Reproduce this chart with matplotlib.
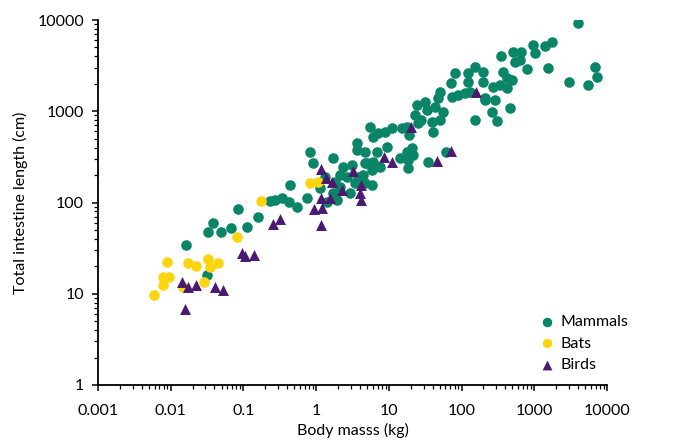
import matplotlib
matplotlib.use("Agg")
import matplotlib.pyplot as plt
from matplotlib.ticker import FixedLocator, FixedFormatter, LogLocator, NullFormatter

# ---- data (body mass kg, intestine length cm) ----
mammals_mass = [0.0162, 0.0313, 0.033, 0.049, 0.067, 0.111, 0.0378, 0.0834, 0.16,
                0.232, 0.272, 0.336, 0.427, 0.55, 0.74, 0.436, 0.82, 0.91, 1.69, 3.6, 4.7,
                2.36, 3.08, 2.13, 1.32, 1.82, 2.63, 3.8, 4.7, 1.13, 1.72, 2.92, 1.91, 1.40,
                71, 50, 90, 111, 48, 73, 24, 31, 33, 43, 56, 50, 39, 28, 23, 25, 41, 17.6,
                15, 19, 10.9, 8.8, 7.1, 6.1, 5.5, 3.6, 4.7, 6.8, 9.3, 20.6, 17.6, 62, 35,
                14.2, 18.5, 18.5, 6.1, 5.0, 7.5, 5.8, 4.4, 5.8, 3.4, 2.13, 21.6,
                209, 288, 259, 462, 153, 303,
                1730, 1400, 949, 1020, 649, 504, 542, 635, 348, 800, 1555, 374, 417, 488,
                337, 272, 417, 199, 153, 124, 81, 124, 199, 130, 209,
                4020, 3020, 6820, 7200, 5520]
mammals_len = [34, 16, 48, 47, 53, 53.5, 59, 84, 70,
               104, 107, 113, 102, 89, 111, 156, 361, 269, 305, 377, 269,
               247, 258, 200, 192, 169, 192, 192, 162, 143, 126, 126, 107, 102,
               2026, 1640, 1508, 1574, 1387, 1445, 1172, 1274, 1033, 1122, 989, 802, 769, 802,
               910, 738, 597, 678, 651, 550, 651, 597, 574, 526, 678, 446, 361, 361, 409,
               393, 361, 361, 280, 305, 292, 237, 280, 269, 247, 227, 200, 156, 162, 149, 332,
               1330, 1330, 989, 1078, 802, 788,
               5790, 5190, 5330, 4320, 4500, 4500, 3490, 3650, 4040, 2885, 2960, 2715, 2300,
               2200, 1940, 1860, 1786, 2715, 3080, 2610, 2610, 2110, 2110, 1640, 1387,
               9350, 2110, 3035, 2393, 1940]

bats_mass = [0.0058, 0.0078, 0.0094, 0.0079, 0.0088, 0.0171, 0.0223, 0.0322, 0.0347,
             0.045, 0.029, 0.0149, 0.081, 0.173, 0.82, 1.07]
bats_len = [9.7, 15.2, 15.4, 12.5, 22.1, 22, 20.3, 23.9, 19.5,
            22, 13.6, 11.9, 41.6, 105, 165, 169]

birds_mass = [0.0157, 0.0142, 0.0171, 0.0223, 0.0407, 0.0528, 0.095, 0.105, 0.141,
              0.257, 0.318, 0.93, 1.19, 1.16, 1.16, 1.55, 4.2, 4.0, 4.2, 2.24, 1.16,
              1.36, 1.63, 3.18, 20.1, 8.6, 11.1, 46, 71, 158]
birds_len = [6.8, 13.4, 11.9, 12.5, 11.9, 11, 28, 25.9, 26.6,
             58, 65.5, 84, 86, 56.7, 113, 111, 107, 128, 156, 137, 231,
             184, 169, 223, 678, 313, 280, 285, 370, 1640]

x_ticks = [0.001, 0.01, 0.1, 1, 10, 100, 1000, 10000]
x_tick_labels = ["0.001", "0.01", "0.1", "1", "10", "100", "1000", "10000"]
y_ticks = [1, 10, 100, 1000, 10000]
y_tick_labels = ["1", "10", "100", "1000", "10000"]

series_names = ["Mammals", "Bats", "Birds"]

# ---- style ----
plt.rcParams['font.family'] = ['Lato', 'DejaVu Sans']
FS = 11.5
C_MAM = '#0b8568'
C_BAT = '#fcd510'
C_BIR = '#4a1a72'

fig = plt.figure(figsize=(6.8, 4.47), dpi=100)
ax = fig.add_axes([98/680, 1 - 385/447, (607-98)/680, (385-20)/447])

ax.scatter(mammals_mass, mammals_len, s=58, marker='o', color=C_MAM, linewidths=0,
           label=series_names[0], zorder=3)
ax.scatter(bats_mass, bats_len, s=58, marker='o', color=C_BAT, linewidths=0,
           label=series_names[1], zorder=4)
ax.scatter(birds_mass, birds_len, s=62, marker='^', color=C_BIR, linewidths=0,
           label=series_names[2], zorder=5)

ax.set_xscale('log')
ax.set_yscale('log')
ax.set_xlim(x_ticks[0], x_ticks[-1])
ax.set_ylim(y_ticks[0], y_ticks[-1])

ax.xaxis.set_major_locator(FixedLocator(x_ticks))
ax.xaxis.set_major_formatter(FixedFormatter(x_tick_labels))
ax.yaxis.set_major_locator(FixedLocator(y_ticks))
ax.yaxis.set_major_formatter(FixedFormatter(y_tick_labels))
ax.xaxis.set_minor_locator(LogLocator(base=10, subs=range(2, 10), numticks=20))
ax.yaxis.set_minor_locator(LogLocator(base=10, subs=range(2, 10), numticks=20))
ax.xaxis.set_minor_formatter(NullFormatter())
ax.yaxis.set_minor_formatter(NullFormatter())

for s in ['top', 'right']:
    ax.spines[s].set_visible(False)
for s in ['left', 'bottom']:
    ax.spines[s].set_linewidth(1.3)
    ax.spines[s].set_color('black')

ax.tick_params(which='major', direction='out', length=4, width=1.1, labelsize=FS,
               colors='black')
ax.tick_params(axis='y', which='major', pad=6)
ax.tick_params(axis='x', which='major', pad=10)
ax.tick_params(which='minor', direction='out', length=3, width=0.9, colors='black')

ax.set_xlabel("Body masss (kg)", fontsize=FS, labelpad=3)
ax.set_ylabel("Total intestine length (cm)", fontsize=FS, labelpad=7)

leg = ax.legend(loc='upper left', bbox_to_anchor=(541/680, 1 - 315/447),
                bbox_transform=fig.transFigure, frameon=False, fontsize=FS,
                borderpad=0, borderaxespad=0, handlelength=0.8, handletextpad=0.4,
                labelspacing=0.45, markerscale=0.9)

fig.savefig("out.png", dpi=100)
